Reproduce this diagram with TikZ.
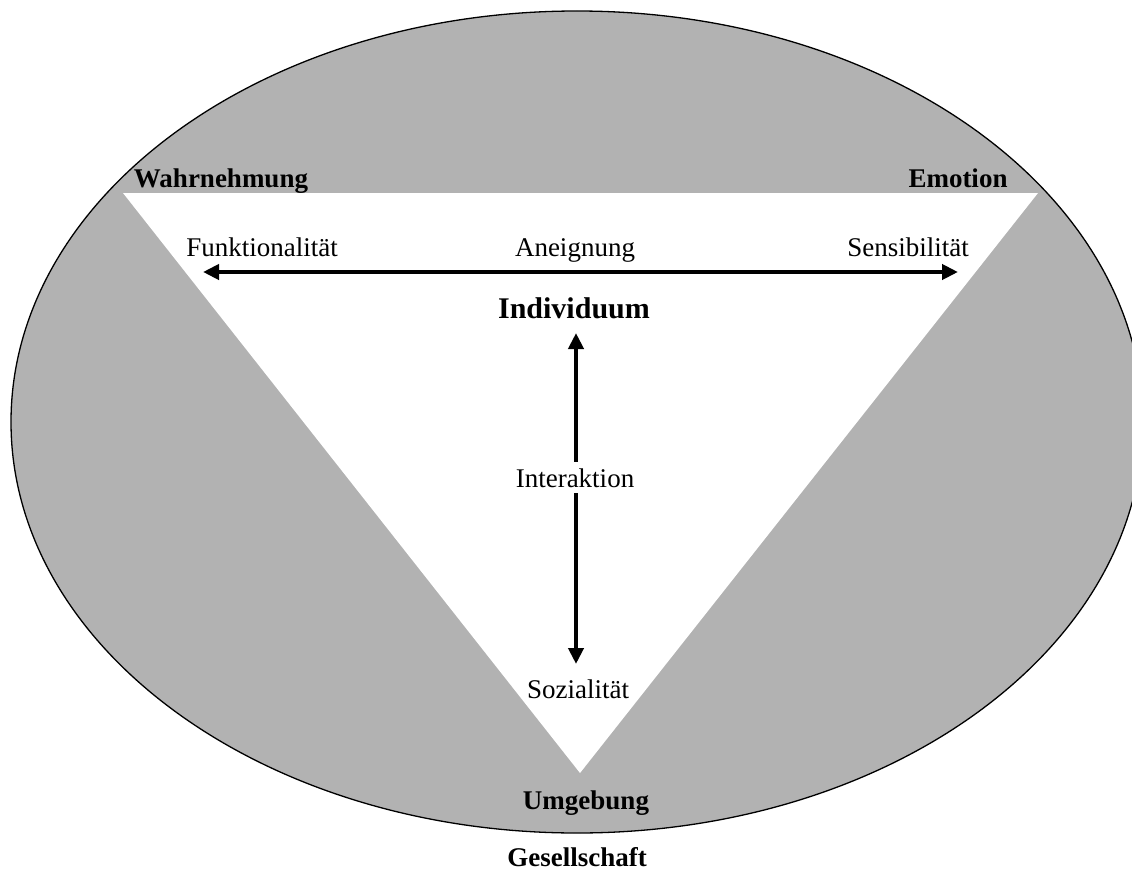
\documentclass[tikz,border=0pt]{standalone}
\usepackage{fontspec}
\setmainfont{Liberation Serif}
\usetikzlibrary{arrows.meta}
\definecolor{ringgray}{gray}{0.70}
\tikzset{
  lbl/.style={inner sep=0pt, anchor=base, font=\fontsize{27}{32}\selectfont},
  corner/.style={lbl, font=\fontsize{27}{32}\selectfont\bfseries},
  center/.style={lbl, font=\fontsize{30}{36}\selectfont\bfseries},
  dblarrow/.style={line width=4pt, {Triangle[length=16pt,width=15pt]}-{Triangle[length=16pt,width=15pt]}},
}
\begin{document}
\begin{tikzpicture}[x=1pt, y=-1pt]
  \useasboundingbox (0,0) rectangle (1132,872);
  % outer field: society
  \draw[fill=ringgray, line width=1.3pt] (577,422) ellipse [x radius=566, y radius=411];
  % inner triangle: individual sphere
  \coordinate (tl) at (123,193);
  \coordinate (tr) at (1038,193);
  \coordinate (bt) at (580,773);
  \fill[white] (tl) -- (tr) -- (bt) -- cycle;

  % corner labels
  \node[corner] (wahr) at (221,187) {Wahrnehmung};
  \node[corner] (emo) at (958,187) {Emotion};
  \node[corner] (umg) at (586,809) {Umgebung};
  \node[corner] (ges) at (577,866) {Gesellschaft};

  % horizontal axis
  \node[lbl] (funk) at (262,256) {Funktionalität};
  \node[lbl] (aneig) at (575,256) {Aneignung};
  \node[lbl] (sens) at (908,256) {Sensibilität};
  \coordinate (hl) at (203,272);
  \coordinate (hr) at (958,272);
  \draw[dblarrow] (hl) -- (hr);

  % vertical axis
  \node[center] (ind) at (574,318) {Individuum};
  \coordinate (vt) at (576,333);
  \coordinate (vb) at (576,664);
  \draw[dblarrow] (vt) -- (vb);
  \node[lbl, fill=white, inner sep=6pt] (inter) at (575,487) {Interaktion};
  \node[lbl] (sozial) at (578,698) {Sozialität};
\end{tikzpicture}
\end{document}
